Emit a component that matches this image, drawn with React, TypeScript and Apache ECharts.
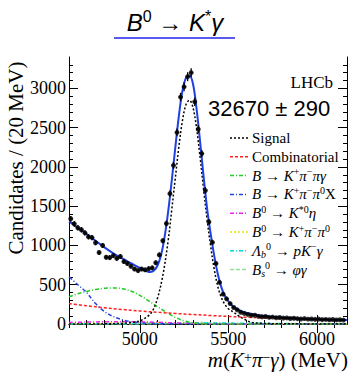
import React, { useEffect, useRef } from "react";
import * as echarts from "echarts";

// ---- data ----
const binStart = 4600;
const binWidth = 20;
const counts = [
  1340, 1275, 1225, 1200, 1160, 1110, 1100, 1035, 910, 1000,
  850, 845, 870, 835, 860, 795, 770, 735, 700, 680,
  700, 690, 705, 715, 780, 880, 1060, 1280, 1660, 2020,
  2440, 2890, 3020, 3150, 3200, 2830, 2480, 2170, 1700, 1300,
  1040, 770, 530, 380, 320, 260, 210, 180, 150, 135,
  122, 110, 112, 98, 92, 96, 85, 88, 80, 83,
  75, 77, 70, 73, 68, 64, 69, 61, 64, 59,
  62, 56, 58, 54, 57, 52, 54, 50,
];

const totalFit = [
  [4600, 1305], [4650, 1225], [4700, 1145], [4750, 1060], [4800, 975], [4850, 900],
  [4900, 835], [4950, 775], [5000, 715], [5040, 672], [5060, 662], [5080, 680],
  [5100, 745], [5120, 880], [5140, 1110], [5160, 1430], [5180, 1820], [5200, 2240],
  [5220, 2640], [5240, 2960], [5260, 3130], [5280, 3165], [5300, 3060], [5320, 2750],
  [5340, 2330], [5360, 1880], [5380, 1470], [5400, 1150], [5420, 870], [5440, 640],
  [5460, 470], [5480, 360], [5500, 290], [5520, 240], [5540, 205], [5560, 178],
  [5580, 158], [5600, 143], [5650, 118], [5700, 102], [5750, 91], [5800, 82],
  [5850, 75], [5900, 69], [5950, 64], [6000, 60], [6050, 57], [6100, 54], [6170, 51],
];

const signalFit = [
  [4600, 0], [4800, 2], [4900, 8], [4950, 18], [5000, 40], [5040, 90], [5070, 160],
  [5100, 330], [5130, 620], [5160, 1060], [5180, 1450], [5200, 1850], [5220, 2250],
  [5240, 2580], [5260, 2790], [5280, 2850], [5300, 2760], [5320, 2500], [5340, 2130],
  [5360, 1720], [5380, 1330], [5400, 990], [5420, 700], [5440, 480], [5460, 340],
  [5480, 250], [5500, 195], [5530, 150], [5560, 100], [5600, 50], [5630, 22],
  [5700, 8], [5800, 3], [6000, 1], [6170, 0],
];

const combinatorial = [
  [4600, 260], [4700, 232], [4800, 207], [4900, 185], [5000, 166], [5100, 149],
  [5200, 134], [5300, 121], [5400, 108], [5500, 96], [5600, 86], [5700, 77],
  [5800, 70], [5900, 63], [6000, 57], [6100, 52], [6170, 49],
];

const bKpipiGamma = [
  [4600, 345], [4650, 385], [4700, 415], [4750, 440], [4800, 455], [4850, 460],
  [4900, 450], [4950, 420], [5000, 365], [5050, 295], [5100, 220], [5150, 150],
  [5200, 85], [5250, 40], [5300, 15], [5350, 5], [5400, 0], [6170, 0],
];

const bKpipi0X = [
  [4600, 600], [4650, 500], [4700, 400], [4750, 260], [4800, 160], [4850, 95],
  [4900, 55], [4950, 28], [5000, 15], [5050, 8], [5100, 5], [5200, 2], [5300, 0], [6170, 0],
];

const bKstarEta = [
  [4600, 20], [4700, 25], [4800, 28], [4900, 30], [5000, 28], [5100, 22],
  [5200, 14], [5300, 7], [5400, 3], [5500, 1], [6170, 0],
];

const bKpipi0 = [
  [4600, 5], [4800, 10], [4900, 15], [5000, 18], [5100, 15], [5200, 8],
  [5300, 3], [5400, 1], [6170, 0],
];

const lambdaBpKGamma = [
  [4600, 3], [5000, 5], [5200, 8], [5400, 12], [5600, 10], [5800, 6], [6000, 3], [6170, 2],
];

const bsPhiGamma = [
  [4600, 0], [5100, 2], [5200, 8], [5300, 15], [5350, 18], [5400, 14],
  [5500, 5], [5600, 1], [6170, 0],
];

const xMajorTicks = [5000, 5500, 6000];
const xMinorTicks = [
  4600, 4700, 4800, 4900, 5000, 5100, 5200, 5300, 5400, 5500, 5600, 5700, 5800, 5900, 6000, 6100,
];
const yMajorTicks = [0, 500, 1000, 1500, 2000, 2500, 3000];
const yMinorTicks = [
  0, 100, 200, 300, 400, 500, 600, 700, 800, 900, 1000, 1100, 1200, 1300, 1400, 1500, 1600,
  1700, 1800, 1900, 2000, 2100, 2200, 2300, 2400, 2500, 2600, 2700, 2800, 2900, 3000, 3100,
  3200, 3300,
];

const legendEntries = [
  { text: "{n|Signal}", color: "#000000", dash: [2, 2] },
  { text: "{n|Combinatorial}", color: "#ff2020", dash: [3, 2] },
  { text: "{i|B}{n| → }{i|K}{sup|+}{i|π}{sup|−}{i|πγ}", color: "#22cc22", dash: [4, 2, 1, 2] },
  { text: "{i|B}{n| → }{i|K}{sup|+}{i|π}{sup|−}{i|π}{sup|0}{n|X}", color: "#2244dd", dash: [4, 2, 1, 2] },
  { text: "{i|B}{sup|0}{n| → }{i|K}{sup|*0}{i|η}", color: "#ee22ee", dash: [4, 2, 1, 2] },
  { text: "{i|B}{sup|0}{n| → }{i|K}{sup|+}{i|π}{sup|−}{i|π}{sup|0}", color: "#e6e600", dash: [2, 2] },
  { text: "{i|Λ}{sub|b}{sup|0}{n| → }{i|pK}{sup|−}{i|γ}", color: "#00d8d8", dash: [4, 2, 1, 2] },
  { text: "{i|B}{sub|s}{sup|0}{n| → }{i|φγ}", color: "#99dd99", dash: [4, 2] },
];

const SERIF = "'Liberation Serif', 'DejaVu Serif', serif";
const SANS = "'Liberation Sans', Arial, sans-serif";

function richSet(size: number, family: string, color: string, lh: number) {
  const supLH = Math.max(4, Math.round(lh - 0.7 * size));
  const subLH = Math.max(4, Math.round(lh - 0.4 * size));
  const small = Math.round(size * 0.65);
  return {
    n: { fontSize: size, fontFamily: family, color, lineHeight: lh, verticalAlign: "middle" },
    i: { fontSize: size, fontFamily: family, fontStyle: "italic", color, lineHeight: lh, verticalAlign: "middle" },
    sup: { fontSize: small, fontFamily: family, color, lineHeight: supLH, verticalAlign: "top" },
    sub: { fontSize: small, fontFamily: family, fontStyle: "italic", color, lineHeight: subLH, verticalAlign: "bottom" },
  };
}

export default function App() {
  const ref = useRef<HTMLDivElement>(null);
  useEffect(() => {
    document.body.style.margin = "0";
    if (!ref.current) return;
    const chart = echarts.init(ref.current, undefined, { renderer: "svg" });
    const points = counts.map((c, i) => [binStart + binWidth / 2 + i * binWidth, c]);
    const plain = (v: number) => String(v);

    const axisCommon = {
      type: "value" as const,
      min: 4600,
      max: 6170,
      splitLine: { show: false },
    };
    const yCommon = {
      type: "value" as const,
      min: 0,
      max: 3400,
      splitLine: { show: false },
    };
    const black = { color: "#000", width: 1 };

    const compLine = (name: string, data: number[][], color: string, dash: number[], width = 1.5) => ({
      name,
      type: "line",
      data,
      showSymbol: false,
      smooth: 0.35,
      clip: true,
      lineStyle: { color, width, type: dash },
      z: 2,
    });

    const legendGraphics: any[] = [];
    legendEntries.forEach((e, k) => {
      const y = 138 + k * 18.8;
      legendGraphics.push({
        type: "line",
        shape: { x1: 230, y1: y, x2: 248, y2: y },
        style: { stroke: e.color, lineWidth: 1.5, lineDash: e.dash },
      });
      legendGraphics.push({
        type: "text",
        x: 252,
        y,
        style: {
          text: e.text,
          rich: richSet(15, SERIF, "#000", 18),
          align: "left",
          verticalAlign: "middle",
        },
      });
    });

    chart.setOption({
      animation: false,
      grid: { left: 69, right: 3, top: 57, bottom: 48 },
      xAxis: [
        {
          ...axisCommon,
          position: "bottom",
          axisLine: { show: true, lineStyle: black },
          axisTick: { show: true, inside: true, length: 9, customValues: xMajorTicks, lineStyle: black },
          axisLabel: {
            show: true,
            customValues: xMajorTicks,
            formatter: plain,
            margin: 6,
            fontFamily: SERIF,
            fontSize: 18,
            lineHeight: 18,
            color: "#000",
          },
        },
        {
          ...axisCommon,
          position: "bottom",
          axisLine: { show: false },
          axisTick: { show: true, inside: true, length: 4, customValues: xMinorTicks, lineStyle: black },
          axisLabel: { show: false },
        },
        {
          ...axisCommon,
          position: "top",
          axisLine: { show: true, lineStyle: black },
          axisTick: { show: true, inside: true, length: 9, customValues: xMajorTicks, lineStyle: black },
          axisLabel: { show: false },
        },
        {
          ...axisCommon,
          position: "top",
          axisLine: { show: false },
          axisTick: { show: true, inside: true, length: 4, customValues: xMinorTicks, lineStyle: black },
          axisLabel: { show: false },
        },
      ],
      yAxis: [
        {
          ...yCommon,
          position: "left",
          axisLine: { show: true, lineStyle: black },
          axisTick: { show: true, inside: true, length: 9, customValues: yMajorTicks, lineStyle: black },
          axisLabel: {
            show: true,
            customValues: yMajorTicks,
            formatter: plain,
            margin: 3,
            fontFamily: SERIF,
            fontSize: 18,
            color: "#000",
          },
        },
        {
          ...yCommon,
          position: "left",
          axisLine: { show: false },
          axisTick: { show: true, inside: true, length: 4, customValues: yMinorTicks, lineStyle: black },
          axisLabel: { show: false },
        },
        {
          ...yCommon,
          position: "right",
          axisLine: { show: true, lineStyle: black },
          axisTick: { show: true, inside: true, length: 9, customValues: yMajorTicks, lineStyle: black },
          axisLabel: { show: false },
        },
        {
          ...yCommon,
          position: "right",
          axisLine: { show: false },
          axisTick: { show: true, inside: true, length: 4, customValues: yMinorTicks, lineStyle: black },
          axisLabel: { show: false },
        },
      ],
      series: [
        compLine("Bs→φγ", bsPhiGamma, "#99dd99", [4, 2]),
        compLine("Λb→pKγ", lambdaBpKGamma, "#00d8d8", [4, 2, 1, 2]),
        compLine("B0→K+π−π0", bKpipi0, "#e6e600", [2, 2]),
        compLine("B0→K*0η", bKstarEta, "#ee22ee", [4, 2, 1, 2]),
        compLine("B→K+π−π0X", bKpipi0X, "#2244dd", [4, 2, 1, 2]),
        compLine("B→K+π−πγ", bKpipiGamma, "#22cc22", [4, 2, 1, 2]),
        compLine("Combinatorial", combinatorial, "#ff2020", [3, 2]),
        compLine("Signal", signalFit, "#000000", [2, 2]),
        {
          name: "Total",
          type: "line",
          data: totalFit,
          showSymbol: false,
          smooth: 0.35,
          clip: true,
          lineStyle: { color: "#2040e0", width: 2 },
          z: 3,
        },
        {
          name: "errors",
          type: "custom",
          data: points,
          z: 4,
          clip: true,
          renderItem: (params: any, api: any) => {
            const m = api.value(0);
            const v = api.value(1);
            const e = Math.sqrt(v);
            const t = api.coord([m, v + e]);
            const b = api.coord([m, v - e]);
            const l = api.coord([m - binWidth / 2, v]);
            const r = api.coord([m + binWidth / 2, v]);
            return {
              type: "group",
              children: [
                { type: "line", shape: { x1: t[0], y1: t[1], x2: b[0], y2: b[1] }, style: { stroke: "#000", lineWidth: 1.3 } },
                { type: "line", shape: { x1: l[0], y1: l[1], x2: r[0], y2: r[1] }, style: { stroke: "#000", lineWidth: 1.3 } },
              ],
            };
          },
        },
        {
          name: "Data",
          type: "scatter",
          data: points,
          symbol: "circle",
          symbolSize: 5,
          itemStyle: { color: "#000" },
          z: 5,
        },
      ],
      graphic: [
        {
          type: "text",
          x: 175,
          y: 22,
          style: {
            text: "{i|B}{sup|0}{n| → }{i|K}{sup|*}{i|γ}",
            rich: richSet(24, SANS, "#2222ee", 28),
            align: "center",
            verticalAlign: "middle",
          },
        },
        {
          type: "line",
          shape: { x1: 114, y1: 38, x2: 235, y2: 38 },
          style: { stroke: "#2222ee", lineWidth: 1.5 },
        },
        {
          type: "text",
          x: 16,
          y: 158,
          rotation: Math.PI / 2,
          style: {
            text: "Candidates / (20 MeV)",
            fontFamily: SERIF,
            fontSize: 21,
            fill: "#000",
            align: "center",
            verticalAlign: "middle",
          },
        },
        {
          type: "text",
          x: 348,
          y: 360,
          style: {
            text: "{i|m}{n|(}{i|K}{sup|+}{i|π}{sup|−}{i|γ}{n|) (MeV)}",
            rich: richSet(21, SERIF, "#000", 20),
            align: "right",
            verticalAlign: "middle",
          },
        },
        {
          type: "text",
          x: 333,
          y: 82,
          style: {
            text: "LHCb",
            fontFamily: SERIF,
            fontSize: 17,
            fill: "#000",
            align: "right",
            verticalAlign: "middle",
          },
        },
        {
          type: "text",
          x: 208,
          y: 108,
          style: {
            text: "32670 ± 290",
            fontFamily: SANS,
            fontSize: 22,
            fill: "#000",
            align: "left",
            verticalAlign: "middle",
          },
        },
        ...legendGraphics,
      ],
    });
    return () => chart.dispose();
  }, []);
  return <div ref={ref} style={{ width: 350, height: 372 }} />;
}
